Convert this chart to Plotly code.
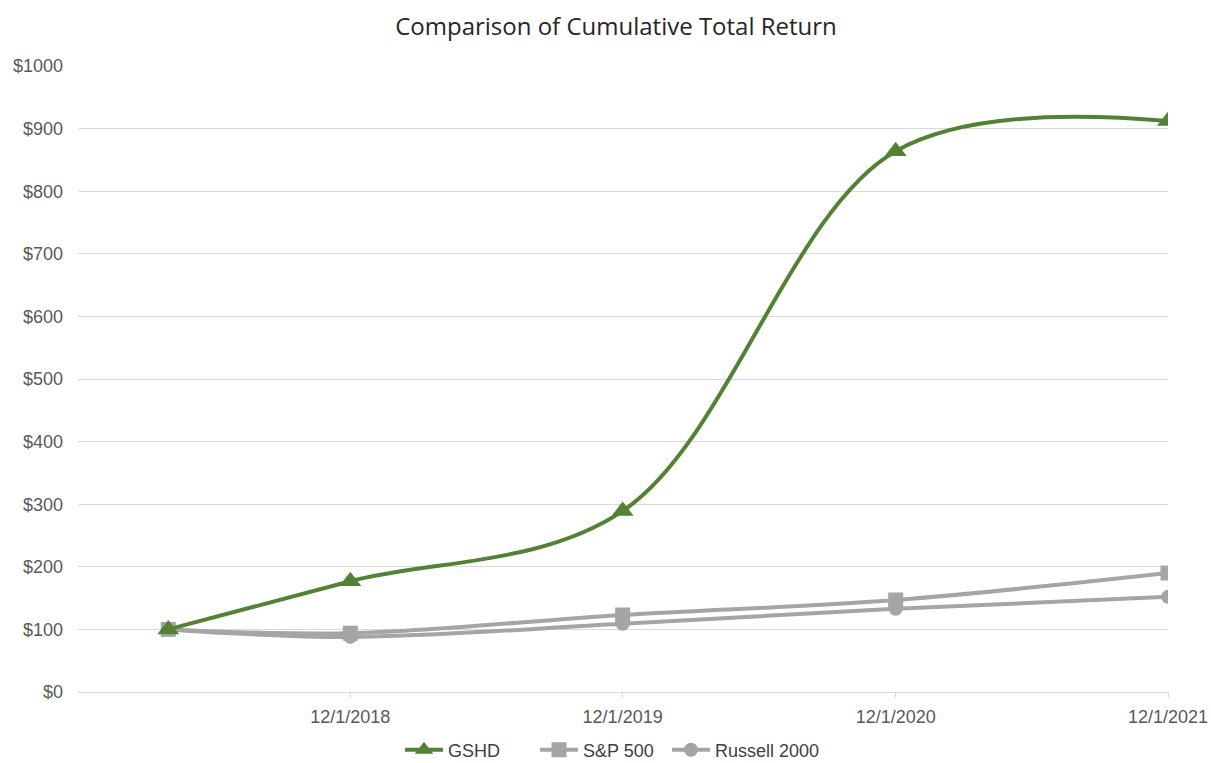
import plotly.graph_objects as go

dates = ["2018-04-01", "2018-12-01", "2019-12-01", "2020-12-01", "2021-12-01"]
gshd = [100, 177, 289, 864, 912]
sp500 = [100, 94, 123, 147, 190]
russell = [100, 88, 109, 133, 152]

tick_dates = ["2018-12-01", "2019-12-01", "2020-12-01", "2021-12-01"]
tick_labels = ["12/1/2018", "12/1/2019", "12/1/2020", "12/1/2021"]
y_ticks = [0, 100, 200, 300, 400, 500, 600, 700, 800, 900, 1000]
y_labels = ["$" + str(v) for v in y_ticks]

GREEN = "#548235"
GRAY = "#A5A5A5"

W, H = 1211, 763

fig = go.Figure()
fig.add_trace(go.Scatter(
    x=dates, y=russell, name="Russell 2000", mode="lines+markers",
    line=dict(color=GRAY, width=4, shape="spline", smoothing=1),
    marker=dict(symbol="circle", size=14, color=GRAY),
    legend="legend3",
))
fig.add_trace(go.Scatter(
    x=dates, y=sp500, name="S&P 500", mode="lines+markers",
    line=dict(color=GRAY, width=4, shape="spline", smoothing=1),
    marker=dict(symbol="square", size=15, color=GRAY),
    legend="legend2",
))
fig.add_trace(go.Scatter(
    x=dates, y=gshd, name="GSHD", mode="lines+markers",
    line=dict(color=GREEN, width=4, shape="spline", smoothing=1),
    marker=dict(symbol="triangle-up", size=19, color=GREEN),
    legend="legend",
))

leg_y = 13 / H


def leg(x_px):
    return dict(orientation="h", xref="container", yref="container",
                x=x_px / W, xanchor="left", y=leg_y, yanchor="middle",
                font=dict(size=18, color="#404040"), itemwidth=38,
                bgcolor="rgba(0,0,0,0)", borderwidth=0)


fig.update_layout(
    width=W, height=H,
    margin=dict(l=78, r=43, t=66, b=71, autoexpand=False),
    paper_bgcolor="white", plot_bgcolor="white",
    title=dict(text="Comparison of Cumulative Total Return", x=616 / W, xanchor="center",
               y=1 - 27 / H, yanchor="middle",
               font=dict(family="Open Sans", size=24, color="#262626")),
    font=dict(family="Liberation Sans, Arial", size=18, color="#595959"),
    showlegend=True,
    legend=leg(400),
    legend2=leg(535),
    legend3=leg(667),
)
fig.update_xaxes(
    type="date", range=["2017-12-01", "2021-12-01"],
    tickmode="array", tickvals=tick_dates, ticktext=tick_labels,
    showgrid=False, showline=True, linecolor="#d9d9d9", linewidth=1,
    ticks="outside", ticklen=5, tickcolor="#d9d9d9",
    ticklabelstandoff=3, automargin=False,
    tickfont=dict(size=18, color="#595959"), zeroline=False,
)
fig.update_yaxes(
    range=[0, 1000], tickmode="array", tickvals=y_ticks, ticktext=y_labels,
    showgrid=True, gridcolor="#d9d9d9", gridwidth=1, zeroline=False, showline=False,
    ticks="", ticklabelstandoff=14, automargin=False,
    tickfont=dict(size=18, color="#595959"),
)

fig.write_html("out.html", config={"displayModeBar": False},
               post_script="document.body.style.margin='0';")
